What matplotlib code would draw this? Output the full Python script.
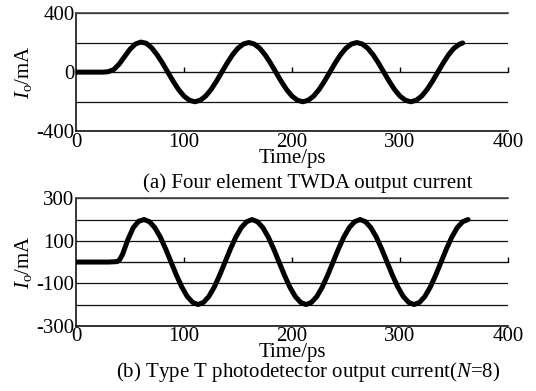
import matplotlib
matplotlib.use("Agg")
import matplotlib.pyplot as plt

plt.rcParams['font.family'] = ['Liberation Serif', 'DejaVu Serif']
plt.rcParams['mathtext.fontset'] = 'custom'
plt.rcParams['mathtext.rm'] = 'Liberation Serif'
plt.rcParams['mathtext.it'] = 'Liberation Serif:italic'
plt.rcParams['axes.unicode_minus'] = False

# (a) four element TWDA output current
t_a = [0, 5, 10, 15, 20, 25, 30, 35, 40, 45, 50, 55, 60, 65, 70, 75, 80, 85, 90, 95,
       100, 105, 110, 115, 120, 125, 130, 135, 140, 145, 150, 155, 160, 165, 170, 175,
       180, 185, 190, 195, 200, 205, 210, 215, 220, 225, 230, 235, 240, 245, 250, 255,
       260, 265, 270, 275, 280, 285, 290, 295, 300, 305, 310, 315, 320, 325, 330, 335,
       340, 345, 350, 355, 358]
i_a = [0, 0, 0, 0, 0, 0, 3, 18, 55, 105, 155, 190, 203, 195, 165, 118, 62, 0, -62, -118,
       -162, -190, -200, -190, -162, -118, -62, 0, 62, 118, 162, 190, 200, 190, 162, 118,
       62, 0, -62, -118, -162, -190, -200, -190, -162, -118, -62, 0, 62, 118, 162, 190,
       200, 190, 162, 118, 62, 0, -62, -118, -162, -190, -200, -190, -162, -118, -62, 0,
       62, 118, 162, 188, 197]

# (b) type T photodetector output current (N=8)
t_b = [0, 10, 20, 30, 38, 40, 43, 48, 53, 58, 63, 68, 73, 78, 83, 88, 93, 98, 103, 108,
       113, 118, 123, 128, 133, 138, 143, 148, 153, 158, 163, 168, 173, 178, 183, 188,
       193, 198, 203, 208, 213, 218, 223, 228, 233, 238, 243, 248, 253, 258, 263, 268,
       273, 278, 283, 288, 293, 298, 303, 308, 313, 318, 323, 328, 333, 338, 343, 348,
       353, 358, 363]
i_b = [0, 0, 0, 0, 2, 8, 35, 105, 162, 192, 200, 190, 162, 118, 62, 0, -62, -118, -162, -190,
       -200, -190, -162, -118, -62, 0, 62, 118, 162, 190, 200, 190, 162, 118, 62, 0,
       -62, -118, -162, -190, -200, -190, -162, -118, -62, 0, 62, 118, 162, 190, 200, 190,
       162, 118, 62, 0, -62, -118, -162, -190, -200, -190, -162, -118, -62, 0, 62, 118,
       162, 190, 200]

xticks = [0, 100, 200, 300, 400]
yticks_a = [-400, 0, 400]
ygrid_a = [-200, 200]
yticks_b = [-300, -100, 100, 300]
ygrid_b = [-200, 0, 200]

caption_a = "(a) Four element TWDA output current"
caption_b = r"(b) Type T photodetector output current($\it{N}$=8)"

FS = 15


def setup(ax, ylim, major, minor):
    ax.set_xlim(0, 400)
    ax.set_ylim(*ylim)
    ax.set_xticks(xticks)
    ax.set_yticks(major)
    ax.set_yticks(minor, minor=True)
    ax.grid(True, which='both', axis='y', color='#111111', linewidth=0.9)
    ax.set_axisbelow(True)
    ax.spines['right'].set_visible(False)
    ax.spines['top'].set_color('#444444')
    ax.spines['top'].set_linewidth(1.2)
    ax.spines['left'].set_linewidth(1.1)
    ax.spines['bottom'].set_linewidth(1.1)
    ax.tick_params(axis='both', which='both', length=0, labelsize=FS, pad=1)
    ax.set_xlabel("Time/ps", fontsize=FS, labelpad=-2)
    ax.set_ylabel(r"$I_\mathrm{o}$/mA", fontsize=FS, labelpad=1.5)
    # small ticks on the zero line
    sec = ax.secondary_xaxis(0.5)
    sec.spines['bottom'].set_visible(False)
    sec.set_xticks(xticks[1:])
    sec.set_xticklabels([])
    sec.tick_params(direction='out', length=3.5, width=1.0, color='black')


fig = plt.figure(figsize=(5.36, 3.91), dpi=100)
ax1 = fig.add_axes([0.1418, 0.664, 0.806, 0.303])
ax2 = fig.add_axes([0.1418, 0.1668, 0.806, 0.326])

setup(ax1, (-400, 400), yticks_a, ygrid_a)
setup(ax2, (-300, 300), yticks_b, ygrid_b)

ax1.plot(t_a, i_a, color='black', linewidth=3.6, solid_joinstyle='round', solid_capstyle='round')
ax2.plot(t_b, i_b, color='black', linewidth=3.6, solid_joinstyle='round', solid_capstyle='round')

fig.text(0.575, 1 - 183 / 391, caption_a, ha='center', va='center', fontsize=FS)
fig.text(0.575, 1 - 372 / 391, caption_b, ha='center', va='center', fontsize=FS)

fig.savefig("out.png", dpi=100)
